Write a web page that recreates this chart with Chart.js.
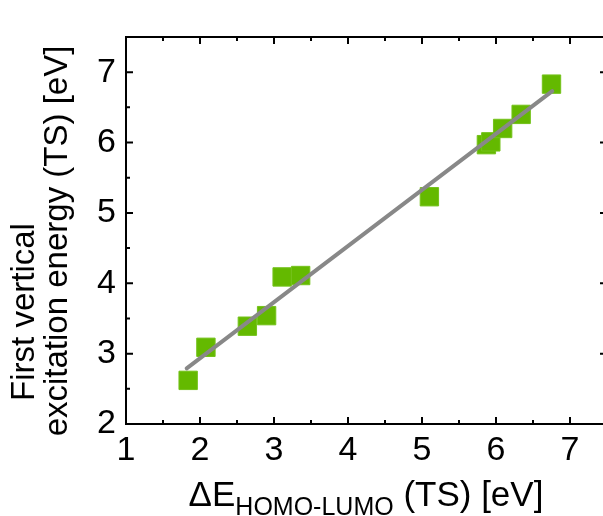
<!DOCTYPE html>
<html>
<head>
<meta charset="utf-8">
<script src="https://cdn.jsdelivr.net/npm/chart.js@4.4.1/dist/chart.umd.min.js"></script>
<style>
	html, body { margin: 0; padding: 0; background: #fff; overflow: hidden; }
	#wrap { position: relative; width: 603px; height: 516px; overflow: hidden; }
	#chart { display: block; width: 621px; height: 516px; }
</style>
</head>
<body>
<div id="wrap"><canvas id="chart" width="621" height="516"></canvas></div>
<script>
// measured points (HOMO-LUMO gap vs first vertical excitation energy)
const gapValues = [1.84, 2.08, 2.64, 2.90, 3.11, 3.36, 5.10, 5.87, 5.93, 6.09, 6.34, 6.75];
const excitationValues = [2.62, 3.09, 3.39, 3.54, 4.09, 4.11, 5.23, 5.97, 6.01, 6.20, 6.40, 6.83];

// linear fit end points
const fitX = [1.82, 6.76];
const fitY = [2.79, 6.73];

const xTicks = [1, 2, 3, 4, 5, 6, 7];
const yTicks = [2, 3, 4, 5, 6, 7];
const xMinor = [1.5, 2.5, 3.5, 4.5, 5.5, 6.5];
const yMinor = [2.5, 3.5, 4.5, 5.5, 6.5];

const FONT = 'Liberation Sans, Arial, sans-serif';

const frameAndTitles = {
	id: 'frameAndTitles',
	afterDraw: chart => {
		const ctx = chart.ctx;
		const area = chart.chartArea;
		const xs = chart.scales.x;
		const ys = chart.scales.y;
		ctx.save();
		ctx.strokeStyle = '#000';
		ctx.lineWidth = 2;
		ctx.strokeRect(area.left, area.top, area.right - area.left, area.bottom - area.top);

		const tick = (list, len) => {
			list.forEach(v => {
				const px = xs.getPixelForValue(v);
				ctx.beginPath();
				ctx.moveTo(px, area.bottom); ctx.lineTo(px, area.bottom - len);
				ctx.moveTo(px, area.top); ctx.lineTo(px, area.top + len);
				ctx.stroke();
			});
		};
		const ytick = (list, len) => {
			list.forEach(v => {
				const py = ys.getPixelForValue(v);
				ctx.beginPath();
				ctx.moveTo(area.left, py); ctx.lineTo(area.left + len, py);
				ctx.moveTo(area.right, py); ctx.lineTo(area.right - len, py);
				ctx.stroke();
			});
		};
		tick(xTicks, 7);
		tick(xMinor, 4);
		ytick(yTicks, 7);
		ytick(yMinor, 4);

		// x title with subscript
		ctx.fillStyle = '#000';
		ctx.textBaseline = 'alphabetic';
		const big = `35px ${FONT}`;
		const small = `25px ${FONT}`;
		const parts = [['ΔE', big, 0], ['HOMO-LUMO', small, 9], [' (TS) [eV]', big, 0]];
		let total = 0;
		parts.forEach(p => { ctx.font = p[1]; total += ctx.measureText(p[0]).width; });
		let x = 366 - total / 2;
		const base = 506;
		parts.forEach(p => {
			ctx.font = p[1];
			ctx.textAlign = 'left';
			ctx.fillText(p[0], x, base + p[2]);
			x += ctx.measureText(p[0]).width;
		});

		// y title, two lines
		ctx.font = `33px ${FONT}`;
		ctx.textAlign = 'center';
		ctx.save();
		ctx.translate(34, 312);
		ctx.rotate(-Math.PI / 2);
		ctx.fillText('First vertical', 0, 0);
		ctx.restore();
		ctx.save();
		ctx.translate(67, 241);
		ctx.rotate(-Math.PI / 2);
		ctx.fillText('excitation energy (TS) [eV]', 0, 0);
		ctx.restore();
		ctx.restore();
	}
};

new Chart(document.getElementById('chart'), {
	type: 'scatter',
	data: {
		datasets: [{
			type: 'line',
			data: fitX.map((x, i) => ({x, y: fitY[i]})),
			borderColor: '#888888',
			borderWidth: 4,
			borderCapStyle: 'round',
			pointRadius: 0,
			fill: false,
			order: 0
		}, {
			data: gapValues.map((x, i) => ({x, y: excitationValues[i]})),
			pointStyle: 'rect',
			pointRadius: 13,
			backgroundColor: '#64b900',
			borderColor: '#74c21a',
			borderWidth: 1,
			order: 1
		}]
	},
	options: {
		responsive: false,
		animation: false,
		layout: { padding: { top: 37, right: 0, left: 0, bottom: 0 } },
		plugins: { legend: { display: false }, tooltip: { enabled: false } },
		scales: {
			x: {
				type: 'linear',
				min: 1,
				max: 7.5,
				afterBuildTicks: s => { s.ticks = xTicks.map(v => ({value: v})); },
				afterFit: s => { s.height = 92; },
				grid: { display: false, drawTicks: false },
				border: { display: false },
				ticks: { color: '#000', padding: 6, font: { family: FONT, size: 34 } }
			},
			y: {
				type: 'linear',
				min: 2,
				max: 7.5,
				afterBuildTicks: s => { s.ticks = yTicks.map(v => ({value: v})); },
				afterFit: s => { s.width = 126; },
				grid: { display: false, drawTicks: false },
				border: { display: false },
				ticks: { color: '#000', padding: 10, font: { family: FONT, size: 34 } }
			}
		}
	},
	plugins: [frameAndTitles]
});
</script>
</body>
</html>
